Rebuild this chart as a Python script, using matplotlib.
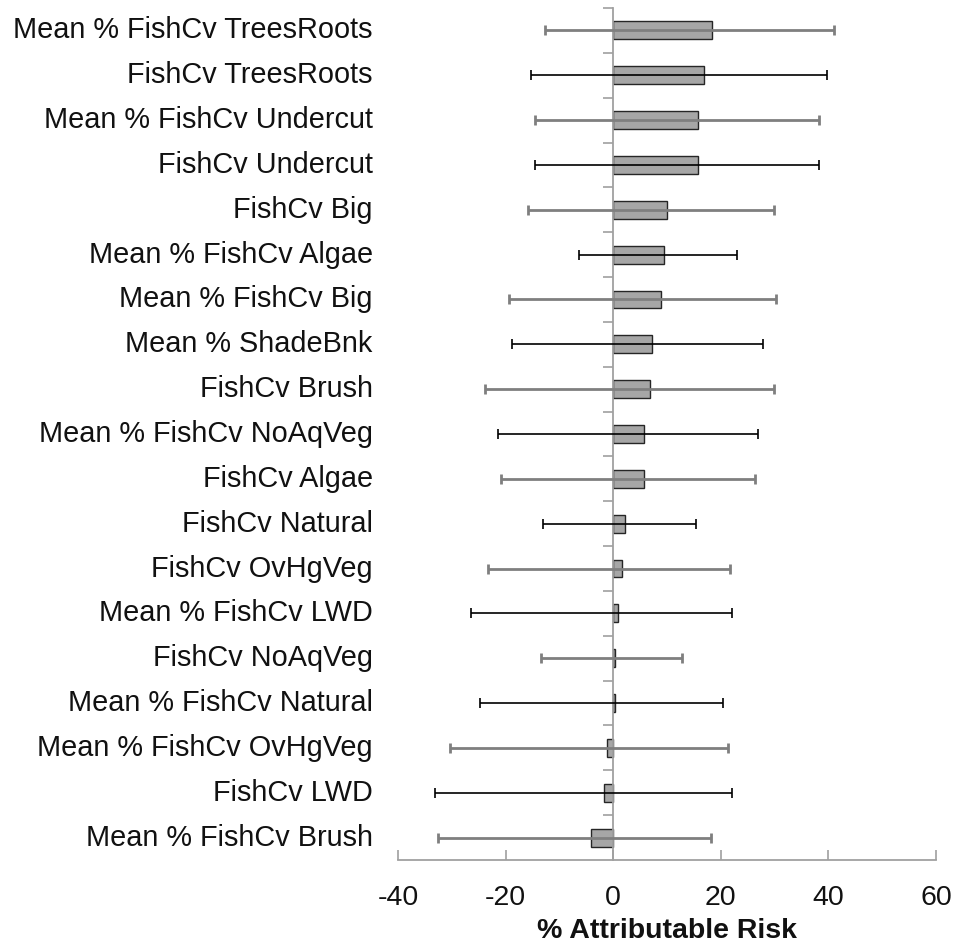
import matplotlib
matplotlib.use("Agg")
import matplotlib.pyplot as plt
import matplotlib.transforms as mtransforms

# categories top to bottom
labels = [
    "Mean % FishCv TreesRoots", "FishCv TreesRoots", "Mean % FishCv Undercut",
    "FishCv Undercut", "FishCv Big", "Mean % FishCv Algae", "Mean % FishCv Big",
    "Mean % ShadeBnk", "FishCv Brush", "Mean % FishCv NoAqVeg", "FishCv Algae",
    "FishCv Natural", "FishCv OvHgVeg", "Mean % FishCv LWD", "FishCv NoAqVeg",
    "Mean % FishCv Natural", "Mean % FishCv OvHgVeg", "FishCv LWD",
    "Mean % FishCv Brush",
]
risk = [18.4, 16.8, 15.8, 15.8, 10.0, 9.4, 8.8, 7.3, 6.9, 5.7, 5.7,
        2.2, 1.7, 0.8, 0.3, 0.3, -1.2, -1.8, -4.1]
ci_low = [-12.6, -15.2, -14.5, -14.5, -15.8, -6.4, -19.4, -18.9, -23.8, -21.5, -20.9,
          -13.1, -23.2, -26.4, -13.5, -24.7, -30.3, -33.2, -32.6]
ci_high = [41.0, 39.8, 38.2, 38.2, 29.8, 23.0, 30.3, 27.9, 29.8, 26.9, 26.4,
           15.4, 21.7, 22.1, 12.7, 20.5, 21.3, 22.1, 18.2]
xticks = [-40, -20, 0, 20, 40, 60]

plt.rcParams["font.family"] = ["Liberation Sans", "DejaVu Sans"]

fig = plt.figure(figsize=(9.55, 9.47), dpi=100)
ax = fig.add_axes([398 / 955, 87 / 947, 538 / 955, 852 / 947])

n = len(labels)
ypos = list(range(n))

ax.barh(ypos, risk, height=0.4, color="#a6a6a6", edgecolor="#262626", linewidth=1.0, zorder=2)

for i in range(n):
    # error bars alternate between thick grey and thin black
    if i % 2 == 0:
        col, lw = "#7f7f7f", 2.0
    else:
        col, lw = "#000000", 1.2
    ax.errorbar(risk[i], i, xerr=[[risk[i] - ci_low[i]], [ci_high[i] - risk[i]]],
                fmt="none", ecolor=col, elinewidth=lw, capsize=3.6, capthick=lw, zorder=3)

ax.set_ylim(n - 0.5, -0.5)
ax.set_xlim(-40, 60)
ax.set_xticks(xticks)
ax.set_xticklabels([str(t) for t in xticks], fontsize=20.5, color="#111111")
ax.tick_params(axis="x", direction="in", length=7, width=1.2, color="#a0a0a0", pad=18)

# y spine sits at zero, ticks mark category boundaries
ax.spines["left"].set_position(("data", 0))
ax.spines["left"].set_color("#a0a0a0")
ax.spines["left"].set_linewidth(1.3)
ax.spines["bottom"].set_color("#a0a0a0")
ax.spines["bottom"].set_linewidth(1.3)
ax.spines["top"].set_visible(False)
ax.spines["right"].set_visible(False)
ax.set_yticks([i - 0.5 for i in range(n)])
ax.set_yticklabels([])
ax.tick_params(axis="y", direction="out", length=7, width=1.2, color="#a0a0a0")

trans = mtransforms.blended_transform_factory(ax.transAxes, ax.transData)
for i, lab in enumerate(labels):
    ax.text(-0.047, i, lab, transform=trans, ha="right", va="center",
            fontsize=20.8, color="#111111")

ax.set_xlabel("% Attributable Risk", fontsize=20.5, fontweight="bold", color="#111111", labelpad=5)

fig.savefig("out.png", dpi=100)
